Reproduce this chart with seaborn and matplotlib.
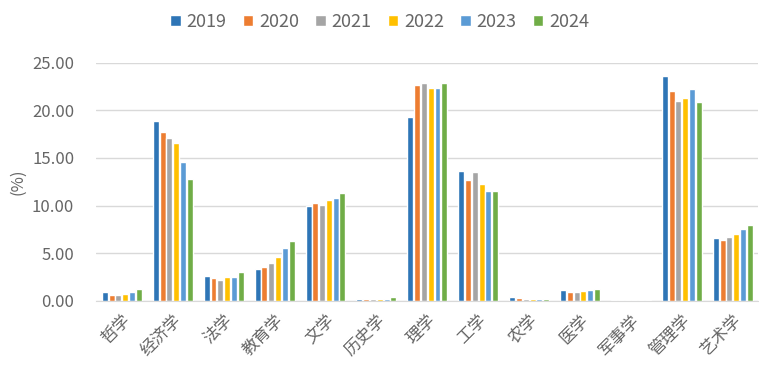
import matplotlib
matplotlib.use("Agg")
import matplotlib.pyplot as plt
import numpy as np
import pandas as pd
import seaborn as sns

# Data (share of graduates by discipline, %)
categories = ["哲学", "经济学", "法学", "教育学", "文学", "历史学", "理学",
              "工学", "农学", "医学", "军事学", "管理学", "艺术学"]
years = ["2019", "2020", "2021", "2022", "2023", "2024"]

v2019 = [0.90, 18.84, 2.56, 3.33, 9.98, 0.22, 19.26, 13.62, 0.35, 1.16, 0.05, 23.60, 6.55]
v2020 = [0.60, 17.72, 2.42, 3.54, 10.22, 0.22, 22.65, 12.68, 0.25, 0.95, 0.05, 22.02, 6.34]
v2021 = [0.60, 17.12, 2.20, 3.96, 10.08, 0.22, 22.83, 13.48, 0.22, 0.91, 0.05, 20.94, 6.65]
v2022 = [0.70, 16.60, 2.52, 4.59, 10.61, 0.22, 22.30, 12.22, 0.22, 1.05, 0.05, 21.25, 7.00]
v2023 = [0.90, 14.57, 2.52, 5.53, 10.75, 0.22, 22.40, 11.55, 0.22, 1.12, 0.05, 22.20, 7.53]
v2024 = [1.20, 12.78, 2.98, 6.27, 11.27, 0.35, 22.86, 11.55, 0.22, 1.26, 0.05, 20.83, 7.98]

colors = ["#2E75B6", "#ED7D31", "#A5A5A5", "#FFC000", "#5B9BD5", "#70AD47"]

# long-form table for seaborn
series = [v2019, v2020, v2021, v2022, v2023, v2024]
df = pd.DataFrame({
    "学科": categories * len(years),
    "年份": np.repeat(years, len(categories)),
    "比例": np.concatenate(series),
})

sns.set_style("white")
plt.rcParams["font.family"] = ["Noto Sans CJK SC", "DejaVu Sans"]

fig = plt.figure(figsize=(7.59, 3.65), dpi=100)
ax = fig.add_axes([0.127, 0.176, 0.872, 0.652])

sns.barplot(data=df, x="学科", y="比例", hue="年份", palette=colors,
            saturation=1, width=0.8, gap=0.12, ax=ax, legend=True)

ax.set_ylim(0, 25)
ax.set_xlim(-0.5, 12.5)
ax.set_yticks(np.arange(0, 25.1, 5))
ax.set_yticklabels([f"{t:.2f}" for t in np.arange(0, 25.1, 5)])
ax.yaxis.grid(True, color="#D9D9D9", linewidth=1)
ax.set_axisbelow(True)
for s in ["top", "right", "left"]:
    ax.spines[s].set_visible(False)
ax.spines["bottom"].set_color("#D9D9D9")

ax.tick_params(axis="y", length=0, labelsize=12, labelcolor="#666666", pad=16)
ax.tick_params(axis="x", length=0, labelsize=12, labelcolor="#666666", pad=8)
plt.setp(ax.get_xticklabels(), rotation=45, ha="right", rotation_mode="anchor")

ax.set_xlabel("")
ax.set_ylabel("(%)", fontsize=12, color="#666666", labelpad=4)

ax.legend(loc="center", bbox_to_anchor=(0.5, 0.94), bbox_transform=fig.transFigure,
          ncol=6, frameon=False, fontsize=13, labelcolor="#666666",
          handlelength=0.6, handleheight=0.6, handletextpad=0.3, columnspacing=0.9)

fig.savefig("out.png", dpi=100)
